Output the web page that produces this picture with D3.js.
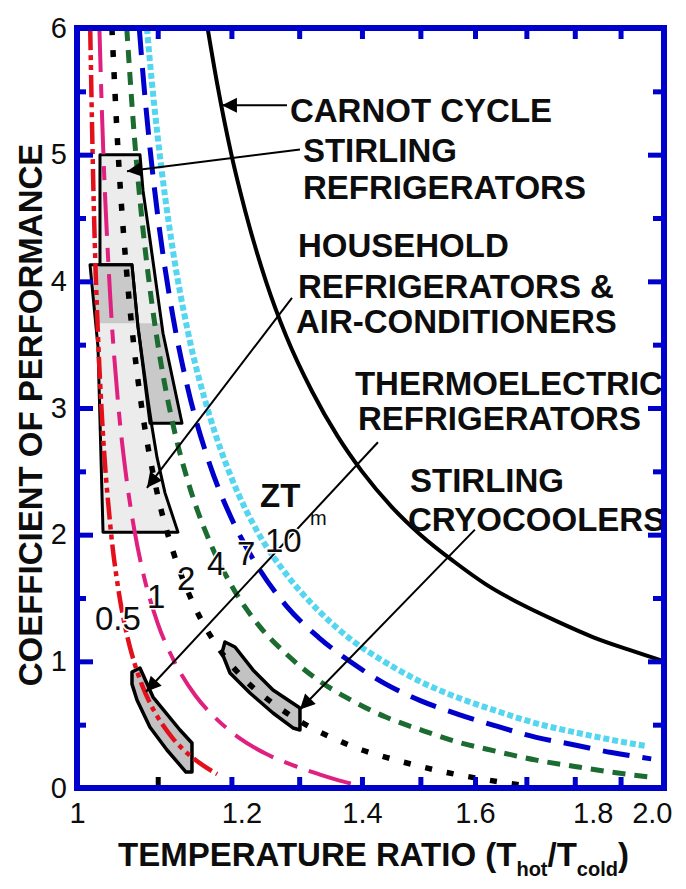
<!DOCTYPE html>
<html>
<head>
<meta charset="utf-8">
<title>Coefficient of performance vs temperature ratio</title>
<script src="https://d3js.org/d3.v7.min.js"></script>
<style>
  body { margin: 0; background: #fff; }
  text { font-family: "Liberation Sans", Arial, sans-serif; fill: #0d0d0d; }
</style>
</head>
<body>
<script>
// ---- data: [Thot/Tcold, COP] ----
var carnot = [[1.1667,6.0],[1.18,5.56],[1.20,5.0],[1.22,4.55],[1.25,4.0],[1.28,3.57],[1.32,3.13],[1.36,2.78],[1.40,2.5],[1.45,2.22],[1.50,2.0],[1.56,1.79],[1.62,1.61],[1.69,1.45],[1.76,1.32],[1.84,1.19],[1.92,1.09],[2.00,1.0]];
var zt05 = [[1.0157,6.0],[1.02,4.60],[1.025,3.59],[1.03,2.92],[1.04,2.08],[1.05,1.57],[1.06,1.23],[1.07,0.99],[1.08,0.81],[1.09,0.67],[1.10,0.56],[1.12,0.39],[1.14,0.27],[1.16,0.18],[1.18,0.11]];
var zt1 = [[1.0268,6.0],[1.03,5.31],[1.04,3.88],[1.05,3.02],[1.06,2.45],[1.07,2.04],[1.08,1.73],[1.10,1.30],[1.12,1.02],[1.15,0.73],[1.18,0.54],[1.21,0.40],[1.25,0.27],[1.29,0.18],[1.33,0.11],[1.37,0.05],[1.40,0.015]];
var zt2 = [[1.0421,6.0],[1.05,4.99],[1.06,4.10],[1.07,3.46],[1.08,2.98],[1.10,2.31],[1.12,1.87],[1.15,1.42],[1.18,1.12],[1.22,0.85],[1.26,0.67],[1.30,0.53],[1.35,0.40],[1.40,0.30],[1.45,0.23],[1.50,0.17],[1.55,0.12],[1.60,0.08],[1.65,0.046],[1.70,0.017]];
var zt4 = [[1.0605,6.0],[1.07,5.15],[1.08,4.47],[1.09,3.94],[1.10,3.51],[1.12,2.87],[1.14,2.42],[1.17,1.94],[1.20,1.60],[1.24,1.28],[1.28,1.06],[1.33,0.85],[1.38,0.70],[1.44,0.56],[1.50,0.46],[1.57,0.36],[1.64,0.29],[1.72,0.22],[1.80,0.17],[1.88,0.125],[1.97,0.085]];
var zt7 = [[1.0763,6.0],[1.08,5.71],[1.09,5.05],[1.10,4.52],[1.12,3.72],[1.14,3.15],[1.17,2.55],[1.20,2.13],[1.24,1.73],[1.28,1.44],[1.33,1.19],[1.38,1.0],[1.44,0.82],[1.50,0.69],[1.57,0.58],[1.64,0.49],[1.72,0.40],[1.80,0.34],[1.88,0.28],[1.97,0.23]];
var zt10 = [[1.0861,6.0],[1.09,5.73],[1.10,5.14],[1.12,4.24],[1.14,3.60],[1.17,2.93],[1.20,2.45],[1.24,2.0],[1.28,1.69],[1.33,1.40],[1.38,1.18],[1.44,0.99],[1.50,0.84],[1.57,0.71],[1.64,0.61],[1.72,0.51],[1.80,0.44],[1.88,0.38],[1.96,0.33]];

// shaded regions
var household = [[1.0155,4.13],[1.0671,4.13],[1.0747,3.64],[1.0875,3.06],[1.0926,2.85],[1.0991,2.61],[1.1095,2.33],[1.1266,2.02],[1.0312,2.02],[1.0251,3.48]];
var stirlingRefrig = [[1.0275,5.0],[1.0772,5.0],[1.0810,4.72],[1.0900,4.33],[1.0991,3.93],[1.1069,3.59],[1.1320,2.88],[1.0900,2.88],[1.0747,3.64],[1.0671,4.13],[1.0275,4.13]];
var overlapShade = [[1.0191,4.12],[1.0671,4.12],[1.0721,3.67],[1.1043,3.67],[1.1320,2.88],[1.0900,2.88],[1.0721,3.67],[1.0227,3.67]];
var thermoBlob = [[1.0671,0.916],[1.0772,0.947],[1.0939,0.718],[1.1293,0.458],[1.1454,0.355],[1.1454,0.126],[1.1373,0.126],[1.1121,0.30],[1.0900,0.48],[1.0734,0.695],[1.0671,0.82]];
var cryoBlob = [[1.1909,1.153],[1.2051,1.113],[1.2310,0.932],[1.2604,0.774],[1.3012,0.632],[1.3012,0.458],[1.2905,0.474],[1.2604,0.592],[1.2266,0.75],[1.1980,0.908],[1.1867,1.066]];

// arrows [from, to]
var arrows = [
  [[1.2814,5.39],[1.1867,5.39]],
  [[1.3012,5.04],[1.0608,4.87]],
  [[1.2890,3.87],[1.0861,2.37]],
  [[1.4267,2.73],[1.0849,0.76]],
  [[1.5998,2.04],[1.3012,0.62]]
];

// annotation text, anchored at [ratio, COP]
var noteText = ["CARNOT CYCLE","STIRLING","REFRIGERATORS","HOUSEHOLD","REFRIGERATORS &","AIR-CONDITIONERS","THERMOELECTRIC","REFRIGERATORS","STIRLING","CRYOCOOLERS"];
var noteAt = [[1.2859,5.258],[1.3058,4.942],[1.3058,4.65],[1.2981,4.192],[1.2981,3.868],[1.295,3.592],[1.3885,3.103],[1.3935,2.826],[1.4817,2.337],[1.4781,2.029]];

var ztText = ["0.5","1","2","4","7","10"];
var ztAt = [[1.0215,1.247],[1.0861,1.421],[1.1253,1.563],[1.1659,1.682],[1.208,1.76],[1.2485,1.863]];

var xLabels = [1, 1.2, 1.4, 1.6, 1.8, 2.0];
var xMinor = [1.1, 1.2, 1.3, 1.4, 1.5, 1.6, 1.7, 1.8, 1.9];
var yLabels = [0, 1, 2, 3, 4, 5, 6];
var yHalf = [0.5, 1.5, 2.5, 3.5, 4.5, 5.5];

var width = 686, height = 889;
var pL = 77, pR = 664, pT = 28, pB = 788;
var blue = "#0000cc";

var x = d3.scaleLog().domain([1, 2]).range([pL, pR]);
var y = d3.scaleLinear().domain([0, 6]).range([pB, pT]);

var svg = d3.select("body").append("svg")
  .attr("width", width).attr("height", height);

var defs = svg.append("defs");
defs.append("clipPath").attr("id", "plot")
  .append("rect").attr("x", pL).attr("y", pT)
  .attr("width", pR - pL).attr("height", pB - pT);
defs.append("marker").attr("id", "head")
  .attr("viewBox", "0 0 10 10").attr("refX", 10).attr("refY", 5)
  .attr("markerWidth", 22).attr("markerHeight", 15)
  .attr("markerUnits", "userSpaceOnUse").attr("orient", "auto")
  .append("path").attr("d", "M0,0L10,5L0,10Z").attr("fill", "#000");

var plot = svg.append("g").attr("clip-path", "url(#plot)");

var poly = d3.line().x(function(d) { return x(d[0]); }).y(function(d) { return y(d[1]); });
var smooth = d3.line().x(function(d) { return x(d[0]); }).y(function(d) { return y(d[1]); })
  .curve(d3.curveMonotoneX);

// shaded regions
plot.append("path").attr("d", poly(household) + "Z").attr("fill", "#ececec");
plot.append("path").attr("d", poly(stirlingRefrig) + "Z").attr("fill", "#ececec");
plot.append("path").attr("d", poly(overlapShade) + "Z").attr("fill", "#c9c9c9");
[household, stirlingRefrig].forEach(function(p) {
  plot.append("path").attr("d", poly(p) + "Z").attr("fill", "none")
    .attr("stroke", "#000").attr("stroke-width", 3).attr("stroke-linejoin", "round");
});
[thermoBlob, cryoBlob].forEach(function(p) {
  plot.append("path").attr("d", poly(p) + "Z").attr("fill", "#c2c2c2")
    .attr("stroke", "#000").attr("stroke-width", 3.5).attr("stroke-linejoin", "round");
});

// curves
var series = [
  {d: zt05, color: "#e3101c", w: 4.5, dash: "22,5,5,5,5,5"},
  {d: zt1, color: "#e0207f", w: 4, dash: "44,12,14,12"},
  {d: zt2, color: "#000000", w: 5.5, dash: "7,15"},
  {d: zt4, color: "#1c6b30", w: 5, dash: "13,9"},
  {d: zt7, color: "#0000cc", w: 5, dash: "27,13"},
  {d: zt10, color: "#55d6f0", w: 6, dash: "6,3"},
  {d: carnot, color: "#000000", w: 4, dash: null}
];
plot.selectAll(".curve").data(series).enter().append("path")
  .attr("class", "curve")
  .attr("d", function(s) { return smooth(s.d); })
  .attr("fill", "none")
  .attr("stroke", function(s) { return s.color; })
  .attr("stroke-width", function(s) { return s.w; })
  .attr("stroke-dasharray", function(s) { return s.dash; });

// arrows
plot.selectAll(".arrow").data(arrows).enter().append("line")
  .attr("class", "arrow")
  .attr("x1", function(a) { return x(a[0][0]); }).attr("y1", function(a) { return y(a[0][1]); })
  .attr("x2", function(a) { return x(a[1][0]); }).attr("y2", function(a) { return y(a[1][1]); })
  .attr("stroke", "#000").attr("stroke-width", 2)
  .attr("marker-end", "url(#head)");

// annotation text
plot.selectAll(".note").data(noteText).enter().append("text")
  .attr("class", "note")
  .attr("x", function(t, i) { return x(noteAt[i][0]); })
  .attr("y", function(t, i) { return y(noteAt[i][1]); })
  .attr("font-size", 33).attr("font-weight", "bold")
  .text(function(t) { return t; });

// ZT labels
plot.selectAll(".zt").data(ztText).enter().append("text")
  .attr("class", "zt")
  .attr("x", function(t, i) { return x(ztAt[i][0]); })
  .attr("y", function(t, i) { return y(ztAt[i][1]); })
  .attr("font-size", 33)
  .attr("stroke", "#fff").attr("stroke-width", 3).attr("paint-order", "stroke")
  .text(function(t) { return t; });
plot.append("text")
  .attr("x", x(1.2412)).attr("y", y(2.218))
  .attr("font-size", 33).attr("font-weight", "bold").text("ZT");
plot.append("text")
  .attr("x", x(1.3167)).attr("y", y(2.076))
  .attr("font-size", 20).text("m");

// ticks (drawn inward) with d3 axes
function tickStyle(g, color) {
  g.select(".domain").remove();
  g.selectAll(".tick line").attr("stroke", color).attr("stroke-width", 5);
  g.selectAll(".tick text").remove();
}
svg.append("g").attr("transform", "translate(0," + pB + ")")
  .call(d3.axisBottom(x).tickValues(xMinor).tickSize(-11))
  .call(tickStyle, blue)
  .selectAll(".tick line").filter(function(d) { return d === 1.1; }).attr("stroke", "#000");
svg.append("g").attr("transform", "translate(0," + pT + ")")
  .call(d3.axisTop(x).tickValues(xMinor).tickSize(-11))
  .call(tickStyle, blue);
svg.append("g").attr("transform", "translate(" + pL + ",0)")
  .call(d3.axisLeft(y).tickValues(yLabels).tickSize(-16))
  .call(tickStyle, blue);
svg.append("g").attr("transform", "translate(" + pL + ",0)")
  .call(d3.axisLeft(y).tickValues(yHalf).tickSize(-9))
  .call(tickStyle, blue);
svg.append("g").attr("transform", "translate(" + pR + ",0)")
  .call(d3.axisRight(y).tickValues(yLabels).tickSize(-16))
  .call(tickStyle, blue);
svg.append("g").attr("transform", "translate(" + pR + ",0)")
  .call(d3.axisRight(y).tickValues(yHalf).tickSize(-11))
  .call(tickStyle, blue);

// frame
svg.append("rect")
  .attr("x", pL).attr("y", pT)
  .attr("width", pR - pL).attr("height", pB - pT)
  .attr("fill", "none").attr("stroke", blue).attr("stroke-width", 6);

// tick labels
function labelStyle(g) {
  g.select(".domain").remove();
  g.selectAll(".tick line").remove();
  g.attr("font-family", null).attr("font-size", null);
  g.selectAll(".tick text").attr("font-size", 29).attr("fill", "#0d0d0d");
}
var xLab = svg.append("g").attr("transform", "translate(0," + pB + ")")
  .call(d3.axisBottom(x).tickValues(xLabels).tickSize(0).tickPadding(14)
    .tickFormat(function(d) { return d === 1 ? "1" : d3.format(".1f")(d); }))
  .call(labelStyle);
// the original figure sets a few of its x labels a little off the ticks
xLab.selectAll(".tick text")
  .attr("dx", function(d) { return d === 1.2 ? 10 : d === 1.8 ? 18 : d === 2 ? 8 : 0; })
  .attr("text-anchor", function(d) { return d === 2 ? "end" : "middle"; });
svg.append("g").attr("transform", "translate(" + pL + ",0)")
  .call(d3.axisLeft(y).tickValues(yLabels).tickSize(0).tickPadding(10)
    .tickFormat(d3.format("d")))
  .call(labelStyle);

// axis titles
svg.append("text")
  .attr("transform", "translate(42,415) rotate(-90)")
  .attr("text-anchor", "middle")
  .attr("font-size", 33).attr("font-weight", "bold")
  .text("COEFFICIENT OF PERFORMANCE");

var xt = svg.append("text").attr("x", 118).attr("y", 866)
  .attr("font-size", 33).attr("font-weight", "bold");
xt.append("tspan").text("TEMPERATURE RATIO (T");
xt.append("tspan").attr("font-size", 20).attr("dy", 10).text("hot");
xt.append("tspan").attr("dy", -10).text("/T");
xt.append("tspan").attr("font-size", 20).attr("dy", 10).text("cold");
xt.append("tspan").attr("dy", -10).text(")");
</script>
</body>
</html>
